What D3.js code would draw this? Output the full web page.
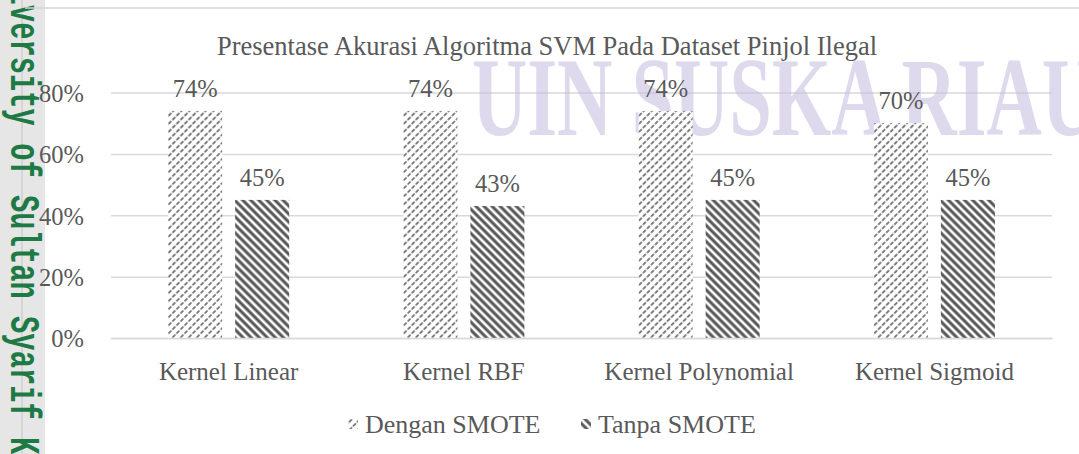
<!DOCTYPE html>
<html>
<head>
<meta charset="utf-8">
<script src="https://cdn.jsdelivr.net/npm/d3@7"></script>
<style>
  html, body { margin: 0; padding: 0; background: #fff; }
  svg { display: block; }
  .serif { font-family: "Liberation Serif", "Times New Roman", "DejaVu Serif", serif; }
  .mono { font-family: "Liberation Mono", "Courier New", "DejaVu Sans Mono", monospace; font-weight: bold; }
</style>
</head>
<body>
<svg id="chart" width="1079" height="454"></svg>
<script>
// ---- data ----
const categories = ["Kernel Linear", "Kernel RBF", "Kernel Polynomial", "Kernel Sigmoid"];
const seriesNames = ["Dengan SMOTE", "Tanpa SMOTE"];
const denganSmote = [0.74, 0.74, 0.74, 0.70];
const tanpaSmote = [0.45, 0.43, 0.45, 0.45];
const yTicks = [0, 0.2, 0.4, 0.6, 0.8];
const titleText = "Presentase Akurasi Algoritma SVM Pada Dataset Pinjol Ilegal";
const watermarkText = "UIN SUSKA RIAU";
const sideText = "University of Sultan Syarif Kasim Riau";

const seriesValues = [denganSmote, tanpaSmote];

const svg = d3.select("#chart");
const W = 1079, H = 454;
const textColor = "#595959";

// ---- patterns ----
const defs = svg.append("defs");
const p1 = defs.append("pattern").attr("id", "pDengan")
  .attr("patternUnits", "userSpaceOnUse").attr("width", 5.7).attr("height", 5.7)
  .attr("patternTransform", "rotate(-45)");
p1.append("rect").attr("width", 5.7).attr("height", 5.7).attr("fill", "#fff");
p1.append("line").attr("x1", 0).attr("x2", 5.7).attr("y1", 2.85).attr("y2", 2.85)
  .attr("stroke", "#7a7a7a").attr("stroke-width", 2).attr("stroke-dasharray", "2.6,1.6");

const p2 = defs.append("pattern").attr("id", "pTanpa")
  .attr("patternUnits", "userSpaceOnUse").attr("width", 5.7).attr("height", 5.7)
  .attr("patternTransform", "rotate(45)");
p2.append("rect").attr("width", 5.7).attr("height", 5.7).attr("fill", "#fff");
p2.append("rect").attr("x", 0).attr("y", 1.3).attr("width", 5.7).attr("height", 3.0)
  .attr("fill", "#555");

const fills = ["url(#pDengan)", "url(#pTanpa)"];

// ---- left strip (behind chart texts) ----
svg.append("rect").attr("x", 0).attr("y", 0).attr("width", 45).attr("height", H).attr("fill", "#e6e6e6");
svg.append("line").attr("x1", 22).attr("x2", 22).attr("y1", 0).attr("y2", H)
  .attr("stroke", "#c4c4c4").attr("stroke-width", 1);
svg.append("text").attr("class", "mono").attr("transform", "translate(11,-47) rotate(90)")
  .attr("font-size", 42).attr("textLength", 657).attr("lengthAdjust", "spacingAndGlyphs")
  .attr("fill", "#1d7a45").text(sideText);

// ---- scales ----
const x0 = d3.scaleBand().domain(categories).range([111, 1052]);
const x1 = d3.scaleBand().domain(seriesNames).range([0, x0.bandwidth()])
  .paddingInner(0.194).paddingOuter(0.851);
const y = d3.scaleLinear().domain([0, 0.8]).range([338, 92.5]);

// ---- frame top line ----
svg.append("line").attr("x1", 25).attr("x2", W).attr("y1", 8).attr("y2", 8)
  .attr("stroke", "#d4d4d4").attr("stroke-width", 1.5);

// ---- gridlines ----
const yAxis = d3.axisLeft(y).tickValues(yTicks).tickFormat(d3.format(".0%"))
  .tickSize(-(1052 - 111)).tickPadding(27);
const gy = svg.append("g").attr("transform", "translate(111,0)").call(yAxis);
gy.attr("font-family", null).attr("font-size", null);
gy.select(".domain").remove();
gy.selectAll(".tick line").attr("stroke", "#d9d9d9").attr("stroke-width", 1.5);
gy.selectAll(".tick text").attr("class", "serif").attr("font-size", 24.5)
  .attr("fill", textColor).attr("dy", "0.36em");

// ---- title ----
svg.append("text").attr("class", "serif").attr("x", 547).attr("y", 55).attr("text-anchor", "middle")
  .attr("font-size", 26.5).attr("fill", textColor)
  .text(titleText);

// ---- watermark ----
svg.append("text").attr("class", "serif").attr("x", 472).attr("y", 135)
  .attr("font-size", 112).attr("font-weight", "bold")
  .attr("textLength", 625).attr("lengthAdjust", "spacingAndGlyphs")
  .attr("fill", "#c3badf").attr("fill-opacity", 0.55).text(watermarkText);

// ---- bars ----
const groups = svg.append("g").selectAll("g").data(categories).join("g")
  .attr("transform", d => `translate(${x0(d)},0)`);
groups.selectAll("rect").data((d, i) => seriesNames.map((s, si) => ({ s, si, v: seriesValues[si][i] })))
  .join("rect")
  .attr("x", d => x1(d.s)).attr("width", x1.bandwidth())
  .attr("y", d => y(d.v)).attr("height", d => y(0) - y(d.v))
  .attr("fill", d => fills[d.si]);
groups.selectAll("text.lbl").data((d, i) => seriesNames.map((s, si) => ({ s, si, v: seriesValues[si][i] })))
  .join("text").attr("class", "lbl serif")
  .attr("x", d => x1(d.s) + x1.bandwidth() / 2).attr("y", d => y(d.v) - 14)
  .attr("text-anchor", "middle").attr("font-size", 24.5)
  .attr("fill", textColor).text(d => d3.format(".0%")(d.v));

// ---- category axis labels ----
const xAxis = d3.axisBottom(x0).tickSize(0).tickPadding(24);
const gx = svg.append("g").attr("transform", "translate(0,338)").call(xAxis);
gx.attr("font-family", null).attr("font-size", null);
gx.select(".domain").attr("stroke", "#d9d9d9").attr("stroke-width", 1.5);
gx.selectAll(".tick text").attr("class", "serif").attr("font-size", 25).attr("fill", textColor);

// ---- legend ----
const legendX = [348, 581];
const lg = svg.append("g").selectAll("g").data(seriesNames).join("g")
  .attr("transform", (d, i) => `translate(${legendX[i]},0)`);
lg.append("rect").attr("x", 0).attr("y", 419).attr("width", 10).attr("height", 10)
  .attr("fill", (d, i) => fills[i]);
lg.append("text").attr("class", "serif").attr("x", 17).attr("y", 433)
  .attr("font-size", 26).attr("fill", textColor).text(d => d);
</script>
</body>
</html>
